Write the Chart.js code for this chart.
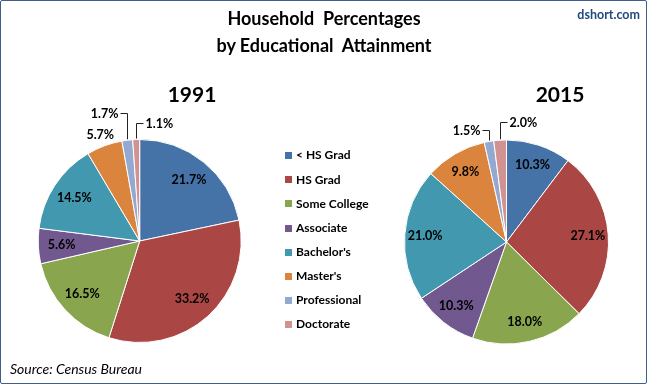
<!DOCTYPE html>
<html>
<head>
<meta charset="utf-8">
<script src="https://cdn.jsdelivr.net/npm/chart.js@4"></script>
<style>
  body { margin: 0; background: #fff; font-family: Lato, "Open Sans", sans-serif; }
  #frame { position: absolute; left: 0; top: 0; width: 647px; height: 384px; box-sizing: border-box;
           border: 1px solid #3f5f8a; border-radius: 2px; }
  canvas { position: absolute; left: 0; top: 0; }
  .txt { position: absolute; white-space: pre; line-height: 1; color: #000; }
  .title { left: 0; width: 648px; text-align: center; font-weight: bold; font-size: 18px; }
  .year { width: 100px; text-align: center; font-weight: bold; font-size: 21px; }
  #legend .row { position: absolute; left: 285px; font-weight: bold; font-size: 12px; white-space: pre; line-height: 1; }
  #legend .box { position: absolute; left: 0; width: 7px; height: 7px; }
  #legend .lab { position: absolute; left: 11px; }
</style>
</head>
<body>
<div id="frame"></div>
<canvas id="pie1991" width="648" height="385"></canvas>
<canvas id="pie2015" width="648" height="385"></canvas>
<div class="txt title" style="top:9px">Household  Percentages</div>
<div class="txt title" style="top:35.5px">by Educational  Attainment</div>
<div class="txt" style="right:8px; top:9px; font-size:12.5px; font-weight:bold; color:#1f497d">dshort.com</div>
<div class="txt year" id="y1" style="left:142px; top:82.5px"></div>
<div class="txt year" id="y2" style="left:510px; top:83px"></div>
<div class="txt" style="left:10px; top:361.5px; font-size:14px; font-style:italic">Source: Census Bureau</div>
<div id="legend"></div>

<script>
// data
const years = ['1991', '2015'];
const categories = ['< HS Grad', 'HS Grad', 'Some College', 'Associate', "Bachelor's", "Master's", 'Professional', 'Doctorate'];
const values1991 = [21.7, 33.2, 16.5, 5.6, 14.5, 5.7, 1.7, 1.1];
const values2015 = [10.3, 27.1, 18.0, 10.3, 21.0, 9.8, 1.5, 2.0];
const colors = ['#4572a7', '#aa4643', '#89a54e', '#71588f', '#4198af', '#db843d', '#93a9cf', '#d19392'];

document.getElementById('y1').textContent = years[0];
document.getElementById('y2').textContent = years[1];

// legend
const legend = document.getElementById('legend');
categories.forEach((c, i) => {
  const cy = 155.8 + i * 24.1;
  const row = document.createElement('div');
  row.className = 'row';
  row.style.top = (cy - 6.4) + 'px';
  row.innerHTML = '<div class="box" style="top:2.9px;background:' + colors[i] + '"></div><div class="lab"></div>';
  row.querySelector('.lab').textContent = c;
  legend.appendChild(row);
});

// percent labels on slices
const sliceLabels = {
  id: 'sliceLabels',
  afterDatasetsDraw(chart, args, opts) {
    const ctx = chart.ctx;
    const meta = chart.getDatasetMeta(0);
    const vals = chart.data.datasets[0].data;
    ctx.save();
    ctx.font = 'bold 12.5px Lato';
    ctx.fillStyle = '#000';
    ctx.strokeStyle = '#222';
    ctx.lineWidth = 1;
    ctx.textBaseline = 'middle';
    meta.data.forEach((arc, i) => {
      const p = arc.getProps(['x', 'y', 'startAngle', 'endAngle', 'outerRadius'], true);
      const mid = (p.startAngle + p.endAngle) / 2;
      const text = vals[i].toFixed(1) + '%';
      const place = opts.outside[i];
      if (!place) {
        const r = p.outerRadius * opts.inner;
        ctx.textAlign = 'center';
        ctx.fillText(text, p.x + Math.cos(mid) * r, p.y + Math.sin(mid) * r);
      } else if (!place.rise) {
        const r = p.outerRadius + place.dist;
        ctx.textAlign = 'center';
        ctx.fillText(text, p.x + Math.cos(mid) * r, p.y + Math.sin(mid) * r);
      } else {
        const x0 = Math.round(p.x + Math.cos(mid) * (p.outerRadius + 1)) + 0.5;
        const y0 = p.y + Math.sin(mid) * (p.outerRadius + 1);
        const yl = Math.round(p.y - p.outerRadius - place.rise) + 0.5;
        ctx.beginPath();
        ctx.moveTo(x0, y0);
        ctx.lineTo(x0, yl);
        ctx.lineTo(x0 + place.side * 7, yl);
        ctx.stroke();
        ctx.textAlign = place.side < 0 ? 'right' : 'left';
        ctx.fillText(text, x0 + place.side * 9, yl);
      }
    });
    ctx.restore();
  }
};

function makePie(id, values, padding, inner, outside) {
  return new Chart(document.getElementById(id), {
    type: 'pie',
    data: {
      labels: categories,
      datasets: [{
        data: values,
        backgroundColor: colors,
        borderColor: '#fff',
        borderWidth: 1,
        hoverOffset: 0
      }]
    },
    options: {
      responsive: false,
      animation: false,
      events: [],
      layout: { padding: padding },
      plugins: {
        legend: { display: false },
        tooltip: { enabled: false },
        sliceLabels: { inner: inner, outside: outside }
      }
    },
    plugins: [sliceLabels]
  });
}

makePie('pie1991', values1991, { left: 37.7, top: 139, right: 406.3, bottom: 42 }, 0.77, {
  5: { dist: 12 },
  6: { rise: 27, side: -1 },
  7: { rise: 17, side: 1 }
});

makePie('pie2015', values2015, { left: 404, top: 139.5, right: 39, bottom: 40.5 }, 0.8, {
  6: { rise: 10, side: -1 },
  7: { rise: 18, side: 1 }
});
</script>
</body>
</html>
